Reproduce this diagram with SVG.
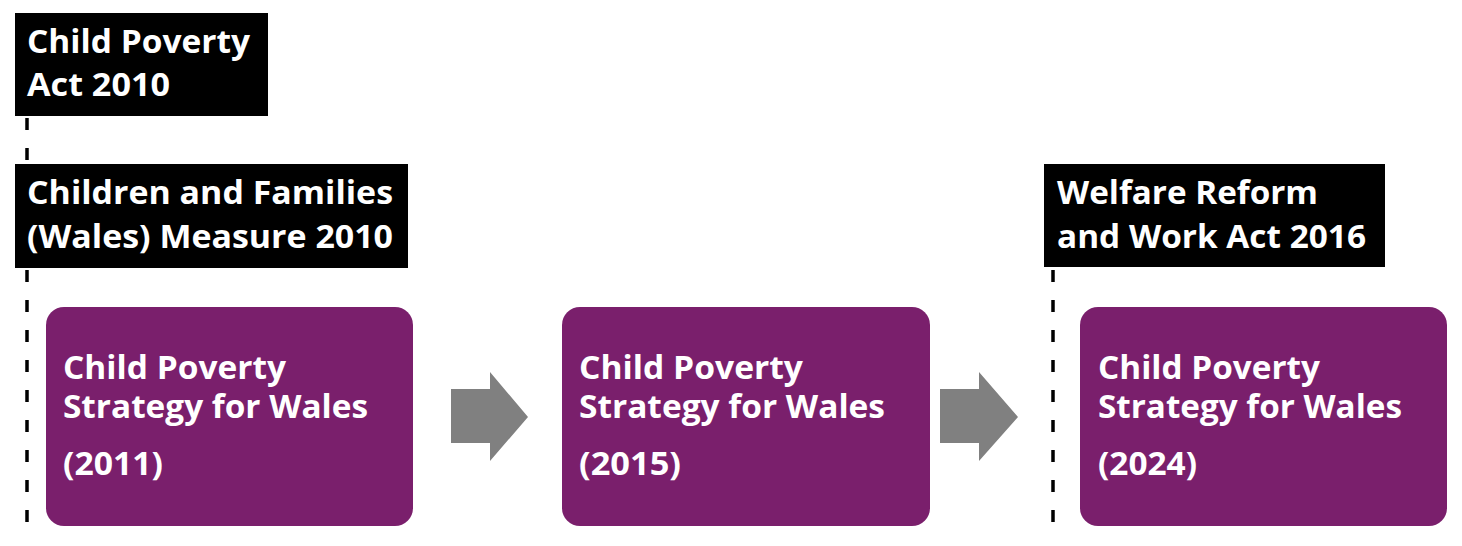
<svg xmlns="http://www.w3.org/2000/svg" width="1462" height="546" viewBox="0 0 1462 546">
<style>
.lbl{fill:#000}
.lt{font-family:"Open Sans","DejaVu Sans",sans-serif;font-weight:700;font-size:32px;fill:#fff}
.st{fill:#7A1F6C}
.dash{stroke:#000;stroke-width:3.5;stroke-dasharray:12 18;fill:none}
.arr{fill:#808080}
</style>
<rect width="1462" height="546" fill="#fff"/>
<g id="connectors">
<line class="dash" x1="27" y1="118" x2="27" y2="164"/>
<line class="dash" x1="27" y1="270" x2="27" y2="530"/>
<line class="dash" x1="1053" y1="270" x2="1053" y2="530"/>
<polygon class="arr" points="451,389 490,389 490,372 528,417 490,461 490,443 451,443"/>
<polygon class="arr" points="940,389 979,389 979,372 1018,417 979,461 979,443 940,443"/>
</g>
<g id="act2010">
<rect class="lbl" x="15" y="13" width="253" height="103"/>
<text class="lt" x="27" y="53" textLength="223" lengthAdjust="spacingAndGlyphs">Child Poverty</text>
<text class="lt" x="27" y="96" textLength="143" lengthAdjust="spacingAndGlyphs">Act 2010</text>
</g>
<g id="measure2010">
<rect class="lbl" x="15" y="164" width="393" height="104"/>
<text class="lt" x="27" y="204" textLength="366" lengthAdjust="spacingAndGlyphs">Children and Families</text>
<text class="lt" x="27" y="248" textLength="366" lengthAdjust="spacingAndGlyphs">(Wales) Measure 2010</text>
</g>
<g id="welfare2016">
<rect class="lbl" x="1044" y="164" width="341" height="103"/>
<text class="lt" x="1057" y="204" textLength="261" lengthAdjust="spacingAndGlyphs">Welfare Reform</text>
<text class="lt" x="1057" y="248" textLength="309" lengthAdjust="spacingAndGlyphs">and Work Act 2016</text>
</g>
<g id="strategy2011">
<rect class="st" x="46" y="307" width="367" height="219" rx="18"/>
<text class="lt" x="63" y="379" textLength="223" lengthAdjust="spacingAndGlyphs">Child Poverty</text>
<text class="lt" x="63" y="418" textLength="305" lengthAdjust="spacingAndGlyphs">Strategy for Wales</text>
<text class="lt" x="63" y="475" textLength="100" lengthAdjust="spacingAndGlyphs">(2011)</text>
</g>
<g id="strategy2015">
<rect class="st" x="562" y="307" width="368" height="219" rx="18"/>
<text class="lt" x="579" y="379" textLength="224" lengthAdjust="spacingAndGlyphs">Child Poverty</text>
<text class="lt" x="579" y="418" textLength="306" lengthAdjust="spacingAndGlyphs">Strategy for Wales</text>
<text class="lt" x="579" y="475" textLength="102" lengthAdjust="spacingAndGlyphs">(2015)</text>
</g>
<g id="strategy2024">
<rect class="st" x="1080" y="307" width="367" height="219" rx="18"/>
<text class="lt" x="1098" y="379" textLength="222" lengthAdjust="spacingAndGlyphs">Child Poverty</text>
<text class="lt" x="1098" y="418" textLength="304" lengthAdjust="spacingAndGlyphs">Strategy for Wales</text>
<text class="lt" x="1098" y="475" textLength="99" lengthAdjust="spacingAndGlyphs">(2024)</text>
</g>
</svg>
